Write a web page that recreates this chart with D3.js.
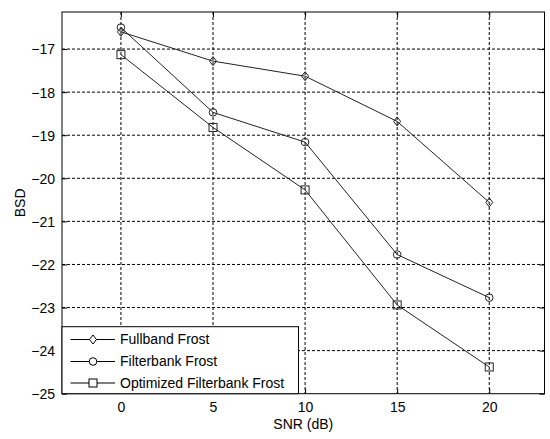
<!DOCTYPE html>
<html><head><meta charset="utf-8">
<script src="https://cdn.jsdelivr.net/npm/d3@7"></script>
<style>body{margin:0;background:#fff}svg{display:block}text{font-family:Arial,"Liberation Sans",sans-serif;font-size:14px;fill:#000}</style>
</head><body><svg id="c" width="550" height="439"></svg>
<script>
const snr = [0, 5, 10, 15, 20];
const fullband = [-16.6, -17.28, -17.63, -18.68, -20.56];
const filterbank = [-16.5, -18.47, -19.16, -21.77, -22.77];
const optimized = [-17.13, -18.82, -20.27, -22.94, -24.38];
const seriesNames = ["Fullband Frost", "Filterbank Frost", "Optimized Filterbank Frost"];
const markers = ["diamond", "circle", "square"];
const xTicks = [0, 5, 10, 15, 20];
const yTicks = [-25, -24, -23, -22, -21, -20, -19, -18, -17];

const svg = d3.select("#c");
const L = 62, R = 544.5, T = 12, B = 393.7;
const FS = "14px";
const x = d3.scaleLinear().domain([-3.2, 23]).range([L, R]);
const y = d3.scaleLinear().domain([-25, -16.14]).range([B, T]);

// grid
const g = svg.append("g");
g.selectAll(".vg").data(xTicks).join("line")
  .attr("x1", d => x(d)).attr("x2", d => x(d)).attr("y1", T).attr("y2", B)
  .attr("stroke", "#000").attr("stroke-width", 1).attr("stroke-dasharray", "3,2");
g.selectAll(".hg").data(yTicks.filter(d => d > -25)).join("line")
  .attr("y1", d => y(d)).attr("y2", d => y(d)).attr("x1", L).attr("x2", R)
  .attr("stroke", "#000").attr("stroke-width", 1).attr("stroke-dasharray", "3,2");

// axes with inward ticks
const ax = d3.axisBottom(x).tickValues(xTicks).tickSize(-5).tickPadding(8).tickFormat(d3.format("d"));
const ay = d3.axisLeft(y).tickValues(yTicks).tickSize(-5).tickPadding(7).tickFormat(d3.format("d"));
const gx = svg.append("g").attr("transform", `translate(0,${B})`).call(ax);
const gy = svg.append("g").attr("transform", `translate(${L},0)`).call(ay);
const gx2 = svg.append("g").attr("transform", `translate(0,${T})`).call(d3.axisTop(x).tickValues(xTicks).tickSize(-5).tickFormat(""));
const gy2 = svg.append("g").attr("transform", `translate(${R},0)`).call(d3.axisRight(y).tickValues(yTicks).tickSize(-5).tickFormat(""));
[gx, gy, gx2, gy2].forEach(a => {
  a.select(".domain").remove();
  a.selectAll(".tick line").attr("stroke", "#000");
  a.selectAll("text").style("font-family", "Arial, 'Liberation Sans', sans-serif").style("font-size", FS).attr("fill", "#000");
});
gy.selectAll("text").attr("dy", "0.35em");

svg.append("rect").attr("x", L).attr("y", T).attr("width", R - L).attr("height", B - T)
  .attr("fill", "none").attr("stroke", "#000").attr("stroke-width", 1);

// series
const data = [fullband, filterbank, optimized];
const line = d3.line().x((d, i) => x(snr[i])).y(d => y(d));
function marker(sel, type, cx, cy) {
  if (type === "diamond") sel.append("path").attr("d", `M${cx},${cy-4.5}L${cx+3.5},${cy}L${cx},${cy+4.5}L${cx-3.5},${cy}Z`);
  else if (type === "circle") sel.append("circle").attr("cx", cx).attr("cy", cy).attr("r", 3.8);
  else sel.append("rect").attr("x", cx - 4).attr("y", cy - 4).attr("width", 8).attr("height", 8);
}
data.forEach((vals, k) => {
  svg.append("path").datum(vals).attr("d", line).attr("fill", "none").attr("stroke", "#222").attr("stroke-width", 1);
  const mg = svg.append("g").attr("fill", "none").attr("stroke", "#222").attr("stroke-width", 1);
  vals.forEach((v, i) => marker(mg, markers[k], x(snr[i]), y(v)));
});

// legend
const lg = svg.append("g");
const lx0 = L, ly0 = 326.7, lw = 236.5, lh = B - ly0;
lg.append("rect").attr("x", lx0).attr("y", ly0).attr("width", lw).attr("height", lh)
  .attr("fill", "#fff").attr("stroke", "#000").attr("stroke-width", 1);
const ly = [339.5, 361.5, 383];
seriesNames.forEach((n, k) => {
  lg.append("line").attr("x1", 70.5).attr("x2", 115).attr("y1", ly[k]).attr("y2", ly[k]).attr("stroke", "#000");
  const mg = lg.append("g").attr("fill", "#fff").attr("stroke", "#000");
  marker(mg, markers[k], 93, ly[k]);
  lg.append("text").attr("x", 120).attr("y", ly[k]).attr("dy", "0.35em").text(n);
});

// axis labels
svg.append("text").attr("x", (L + R) / 2).attr("y", 429).attr("text-anchor", "middle").text("SNR (dB)");
svg.append("text").attr("transform", `translate(25,${(T + B) / 2}) rotate(-90)`).attr("text-anchor", "middle").text("BSD");
</script></body></html>
